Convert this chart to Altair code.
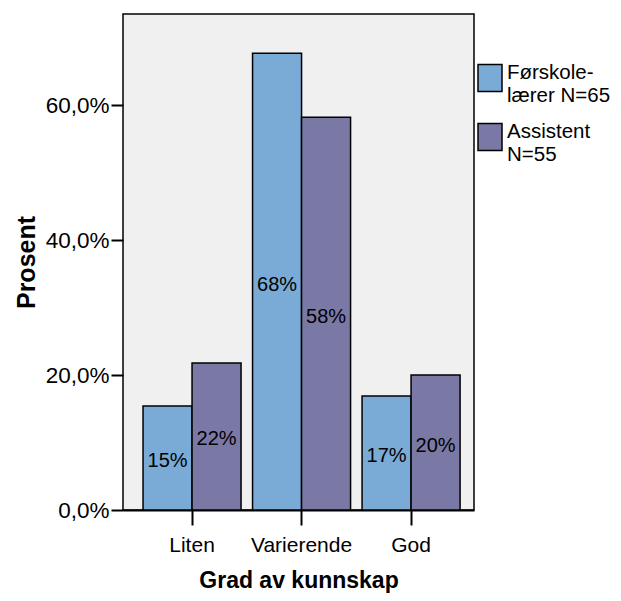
import altair as alt
import pandas as pd

categories = ["Liten", "Varierende", "God"]
series = ["Førskole-\nlærer N=65", "Assistent\nN=55"]
forskole_values = [15.4, 67.7, 16.9]
assistent_values = [21.8, 58.2, 20.0]
y_ticks = [0, 20, 40, 60]
colors = ["#7aaad6", "#7a79a6"]

rows = []
for i, c in enumerate(categories):
    rows.append({"kat": c, "gruppe": series[0], "verdi": forskole_values[i]})
    rows.append({"kat": c, "gruppe": series[1], "verdi": assistent_values[i]})
df = pd.DataFrame(rows)

FONT = "Liberation Sans"

x_enc = alt.X(
    "kat:N",
    sort=categories,
    title="Grad av kunnskap",
    scale=alt.Scale(paddingInner=0.105, paddingOuter=0.155, align=0.59),
    axis=alt.Axis(
        labelAngle=0,
        labelFontSize=21,
        labelPadding=9,
        tickSize=15,
        tickWidth=2,
        tickColor="black",
        domain=True,
        domainWidth=2,
        domainColor="black",
        titleFontSize=23,
        titleFontWeight="bold",
        titlePadding=14,
    ),
)
y_enc = alt.Y(
    "verdi:Q",
    title="Prosent",
    scale=alt.Scale(domain=[0, 73.5], nice=False),
    axis=alt.Axis(
        values=y_ticks,
        labelExpr="replace(format(datum.value, '.1f'), '.', ',') + '%'",
        labelFontSize=22.5,
        labelPadding=2,
        tickSize=12,
        tickWidth=2,
        tickColor="black",
        domain=False,
        grid=False,
        titleFontSize=25,
        titleFontWeight="bold",
        titlePadding=6,
    ),
)

bars = alt.Chart(df).mark_bar(stroke="black", strokeWidth=1.5).encode(
    x=x_enc,
    xOffset=alt.XOffset("gruppe:N", sort=series),
    y=y_enc,
    color=alt.Color(
        "gruppe:N",
        sort=series,
        scale=alt.Scale(domain=series, range=colors),
        legend=alt.Legend(
            title=None,
            orient="none",
            legendX=354,
            legendY=46,
            labelExpr="split(datum.label, '\\n')",
            labelFontSize=20.5,
            labelLimit=300,
            labelOffset=4,
            symbolType="M-1,-0.7L1,-0.7L1,1.55L-1,1.55Z",
            symbolSize=576,
            symbolStrokeColor="black",
            symbolStrokeWidth=1.5,
            rowPadding=13,
        ),
    ),
)

labels = alt.Chart(df).transform_calculate(
    mid="datum.verdi / 2",
    txt="format(datum.verdi, '.0f') + '%'",
).mark_text(fontSize=20, baseline="middle", dy=3, color="black").encode(
    x=alt.X("kat:N", sort=categories),
    xOffset=alt.XOffset("gruppe:N", sort=series),
    y=alt.Y("mid:Q"),
    text="txt:N",
)

chart = alt.layer(bars, labels).properties(
    width=351,
    height=496,
    autosize=alt.AutoSizeParams(type="none"),
    padding={"left": 115, "top": 6, "right": 139, "bottom": 83},
).configure(font=FONT).configure_view(
    fill="#f0f0f0", stroke="black", strokeWidth=1.5
).configure_axis(labelColor="black", titleColor="black", labelFont=FONT, titleFont=FONT
).configure_legend(labelFont=FONT, labelColor="black")

chart.save("out.html", embed_options={"renderer": "svg", "actions": False})
